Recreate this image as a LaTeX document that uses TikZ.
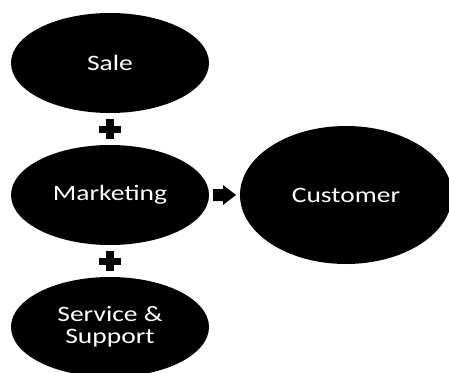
\documentclass[tikz,border=0pt]{standalone}
\usepackage{fontspec}
\setmainfont{Carlito}
\newfontfamily\lbl[FakeStretch=1.25]{Carlito}
\usetikzlibrary{shapes.geometric,calc}
\begin{document}
\begin{tikzpicture}[x=1pt,y=-1pt,
  bubble/.style={ellipse, fill=black, draw=none, text=white, inner sep=0pt,
    font=\lbl\fontsize{22}{22}\selectfont, align=center},
  sign/.style={fill=black}]
\useasboundingbox (0,0) rectangle (449,372);
\node[bubble, minimum width=198, minimum height=100] (sale) at (110,63) {Sale};
\node[bubble, minimum width=198, minimum height=100] (mkt) at (110,195) {Marketing};
\node[bubble, minimum width=198, minimum height=100] (svc) at (110,327) {Service \&\\Support};
\node[bubble, minimum width=212, minimum height=138] (cust) at (346,195) {Customer};
\coordinate (p1) at ($(sale.south)!0.5!(mkt.north)$);
\coordinate (p2) at ($(mkt.south)!0.5!(svc.north)$);
\coordinate (ar) at ($(mkt.east)!0.5!(cust.west)$);
\foreach \p in {p1,p2}{
  \fill[sign, shift={(\p)}] (-11,-3.5) rectangle (11,3.5);
  \fill[sign, shift={(\p)}] (-4,-10) rectangle (4,10);
}
\fill[sign, shift={(ar)}] (-11.5,-6) -- (-1.5,-6) -- (-1.5,-10) -- (11.5,0) -- (-1.5,10) -- (-1.5,6) -- (-11.5,6) -- cycle;
\end{tikzpicture}
\end{document}
